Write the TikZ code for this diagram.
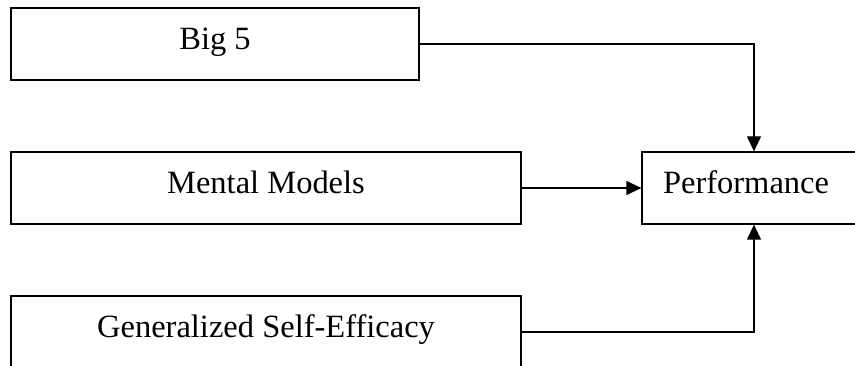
\documentclass[tikz,border=0pt]{standalone}
\usepackage{fontspec}
\setmainfont{Liberation Serif}
\usetikzlibrary{arrows.meta}

\begin{document}
\begin{tikzpicture}
  [
    x = 1pt, y = -1pt, line width = 1.3pt,
    every node/.style = {draw, rectangle, inner sep = 0pt,
      font = \fontsize{32.5}{39}\selectfont,
      text height = 22pt, text depth = 11.2pt},  % text sits a bit above centre
    factor/.style = {minimum height = 72pt},
    link/.style = {-{Triangle[length = 15pt, width = 14pt]}}
  ]
  \clip (0,0) rectangle (855,366);
  \node [factor, minimum width = 408pt] (Big5)   at (215,44)  {Big 5};
  \node [factor, minimum width = 510pt] (Mental) at (266,188) {Mental Models};
  \node [factor, minimum width = 510pt] (GSE)    at (266,332) {Generalized Self-Efficacy};
  \node [minimum height = 72pt, text width = 182pt, align = left,
         inner xsep = 21pt] (Perf) at (754,188) {Performance};

  \draw [link] (Big5.east) -| (Perf.north);
  \draw [link] (Mental.east) -- (Perf.west);
  \draw [link] (GSE.east) -| (Perf.south);
\end{tikzpicture}
\end{document}
